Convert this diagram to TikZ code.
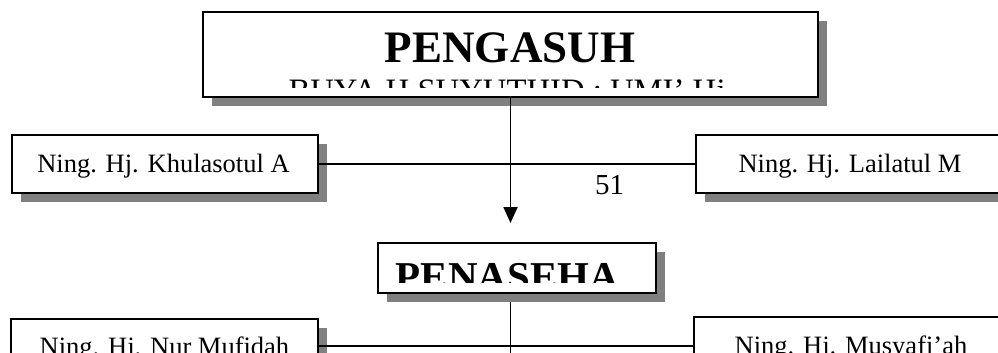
\documentclass[tikz,border=0pt]{standalone}
\usepackage{fontspec}
\setmainfont{Liberation Serif}
\usetikzlibrary{shadows,arrows.meta,calc}
\definecolor{shadegray}{HTML}{808080}
\tikzset{
  orgbox/.style={draw=black, line width=2.6pt, fill=white, rectangle,
    inner sep=0pt, outer sep=0pt, anchor=north west,
    general shadow={fill=shadegray, draw=none, shadow xshift=9pt, shadow yshift=-9pt}},
  link/.style={line width=1.8pt, draw=black},
  nametext/.style={inner sep=0pt, outer sep=0pt, anchor=base,
    font=\fontsize{26.5}{30}\selectfont},
}
\begin{document}
\begin{tikzpicture}[x=1pt,y=-1pt]
\useasboundingbox (0,0) rectangle (998,353);
\clip (0,0) rectangle (998,353);

% connector points
\coordinate (arrowtip) at (510.5,223);
\coordinate (stemtop) at (510.5,270);
\coordinate (stemend) at (510.5,360);
\coordinate (midjoin) at (510.5,345.7);

% the stem under the second box is drawn first so that the box covers its top
\draw[link] (stemtop) -- (stemend);

% boxes
\node[orgbox, minimum width=615pt, minimum height=85pt] (pengasuh) at (203,12) {};
\node[orgbox, minimum width=306pt, minimum height=58pt] (khul) at (12,135) {};
\node[orgbox, minimum width=308pt, minimum height=58pt] (lail) at (696,135) {};
\node[orgbox, minimum width=278pt, minimum height=50pt] (penaseha) at (378,243) {};
\node[orgbox, minimum width=307pt, minimum height=60pt] (mufi) at (11,319) {};
\node[orgbox, minimum width=314pt, minimum height=60pt] (musy) at (694,317) {};

% texts of the head box, cut off by its inner margin
\begin{scope}
  \clip (205,14) rectangle (816,87.5);
  \node[inner sep=0pt, anchor=base, font=\fontsize{45}{50}\selectfont\bfseries]
    (headtitle) at (510,63) {PENGASUH};
  \node[inner sep=0pt, anchor=base, font=\fontsize{32.7}{36}\selectfont]
    (headnames) at (507,101.6) {BUYA H SUYUTHID : UMI’ Hj};
\end{scope}

\begin{scope}
  \clip (380,245) rectangle (654,282);
  \node[inner sep=0pt, anchor=base, font=\fontsize{41}{46}\selectfont\bfseries]
    (pentitle) at (507.5,290) {PENASEHA};
\end{scope}

% names
\node[nametext] (khultext) at (163.5,172) {Ning. Hj. Khulasotul A};
\node[nametext] (lailtext) at (850,172) {Ning. Hj. Lailatul M};
\node[nametext] (mufitext) at (164.5,355) {Ning. Hj. Nur Mufidah};
\node[nametext] (musytext) at (851,354) {Ning. Hj. Musyafi’ah};

% page number
\node[inner sep=0pt, anchor=base west, font=\fontsize{29}{32}\selectfont]
  (pagenum) at (595,194) {51};

% connectors over the shadows
\draw[link] (khul.east) -- (lail.west);
\draw[link, -{Triangle[width=14pt,length=16pt]}] (pengasuh.south) -- (arrowtip);
\draw[link] (mufi.east |- midjoin) -- (musy.west |- midjoin);
\end{tikzpicture}
\end{document}
